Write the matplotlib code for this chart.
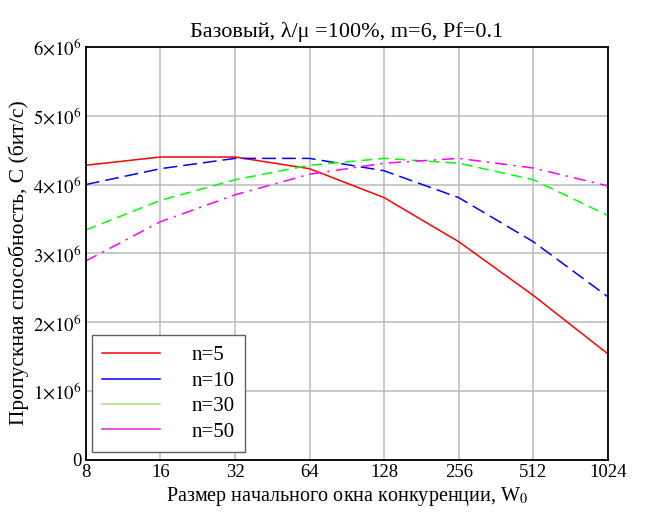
import matplotlib
matplotlib.use("Agg")
import matplotlib.pyplot as plt
from matplotlib.lines import Line2D
import numpy as np

plt.rcParams['font.family'] = ['Liberation Serif', 'DejaVu Serif']
plt.rcParams['mathtext.fontset'] = 'stix'

# Window sizes and throughput (bit/s) for each n
w0 = [8, 16, 32, 64, 128, 256, 512, 1024]
c_n5 = [4.28e6, 4.40e6, 4.40e6, 4.23e6, 3.81e6, 3.17e6, 2.39e6, 1.54e6]
c_n10 = [4.00e6, 4.23e6, 4.38e6, 4.38e6, 4.20e6, 3.81e6, 3.17e6, 2.37e6]
c_n30 = [3.34e6, 3.77e6, 4.07e6, 4.28e6, 4.38e6, 4.31e6, 4.07e6, 3.55e6]
c_n50 = [2.89e6, 3.46e6, 3.85e6, 4.15e6, 4.31e6, 4.38e6, 4.24e6, 3.98e6]
labels = ['n=5', 'n=10', 'n=30', 'n=50']
y_ticks = [0, 1e6, 2e6, 3e6, 4e6, 5e6, 6e6]
y_tick_labels = ['0'] + [r'$%d{\times}10^{6}$' % k for k in range(1, 7)]

fig = plt.figure(figsize=(6.55, 5.15), dpi=100)
ax = fig.add_axes([0.131, 0.107, 0.797, 0.802])

ax.plot(w0, c_n5, color='#ff0000', lw=1.1, ls='-')
ax.plot(w0, c_n10, color='#0000ff', lw=1.1, ls=(0, (9, 4)))
ax.plot(w0, c_n30, color='#00ff00', lw=1.1, ls=(0, (7, 4)))
ax.plot(w0, c_n50, color='#ff00ff', lw=1.1, ls=(0, (8, 4, 1.5, 4)))

ax.set_xscale('log', base=2)
ax.set_xlim(8, 1024)
ax.set_ylim(0, 6e6)
ax.set_xticks(w0)
ax.set_xticklabels([str(v) for v in w0])
ax.minorticks_off()
ax.set_yticks(y_ticks)
ax.set_yticklabels(y_tick_labels)
ax.tick_params(length=0, labelsize=13.5, pad=3)
ax.grid(True, color='#c0c0c0', lw=1.2)
ax.set_axisbelow(True)
for s in ax.spines.values():
    s.set_color('black')
    s.set_linewidth(1.3)

ax.set_title('Базовый, λ/μ =100%, m=6, Pf=0.1', fontsize=16, pad=7)
ax.set_xlabel(r'Размер начального окна конкуренции, W$_0$', fontsize=14.5, labelpad=3)
ax.set_ylabel('Пропускная способность, C (бит/с)', fontsize=15.5, labelpad=1)
ax.yaxis.set_label_coords(-0.108, 0.478)

handles = [Line2D([], [], color=c, lw=1.1, ls='-') for c in
           ['#ff0000', '#0000ff', '#a8e070', '#e020e0']]
leg = ax.legend(handles, labels, loc='lower left', bbox_to_anchor=(0.011, 0.019),
                fontsize=15, handlelength=2.8, handletextpad=1.5, labelspacing=0.28,
                fancybox=False, framealpha=1, borderpad=0.5, borderaxespad=0)
leg.get_frame().set_edgecolor('#606060')
leg.get_frame().set_linewidth(1.0)

fig.savefig('out.png', dpi=100)
